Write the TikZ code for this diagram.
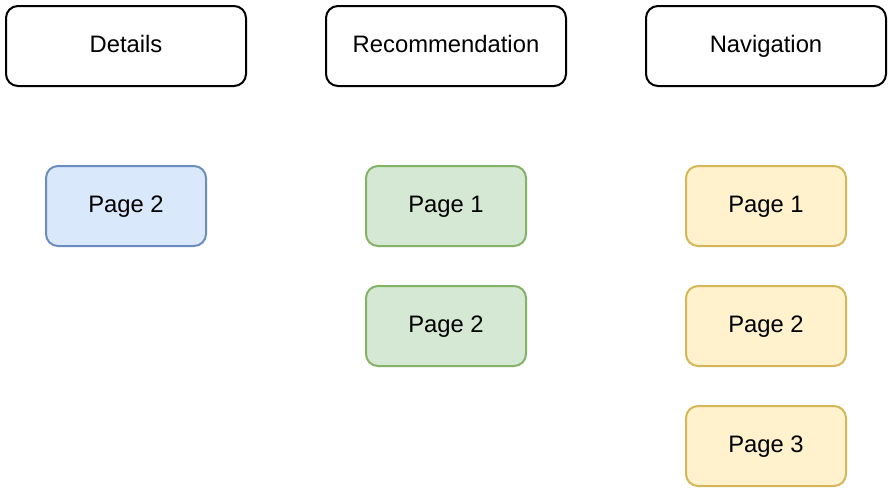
\documentclass[tikz,border=0pt]{standalone}
\usepackage{fontspec}
\setmainfont{Liberation Sans}
\definecolor{bluef}{HTML}{DAE8FC}\definecolor{blued}{HTML}{6C8EBF}
\definecolor{greenf}{HTML}{D5E8D4}\definecolor{greend}{HTML}{82B366}
\definecolor{yellowf}{HTML}{FFF2CC}\definecolor{yellowd}{HTML}{D6B656}
\begin{document}
\begin{tikzpicture}[x=1pt,y=-1pt,
  box/.style={rectangle,rounded corners=12pt,line width=2pt,minimum height=80pt,inner sep=0pt,text height=17pt,text depth=5pt,font=\fontsize{23.8}{26}\selectfont},
  head/.style={box,draw=black,fill=white,minimum width=240pt},
  pg/.style={box,minimum width=160pt},
  bpg/.style={pg,draw=blued,fill=bluef},
  gpg/.style={pg,draw=greend,fill=greenf},
  ypg/.style={pg,draw=yellowd,fill=yellowf}]
\useasboundingbox (0,0) rectangle (890,491);
\node[head] (details) at (126,46) {Details};
\node[head] (recom) at (446,46) {Recommendation};
\node[head] (nav) at (766,46) {Navigation};
\node[bpg] (d2) at (126,206) {Page 2};
\node[gpg] (r1) at (446,206) {Page 1};
\node[gpg] (r2) at (446,326) {Page 2};
\node[ypg] (n1) at (766,206) {Page 1};
\node[ypg] (n2) at (766,326) {Page 2};
\node[ypg] (n3) at (766,446) {Page 3};
\end{tikzpicture}
\end{document}
